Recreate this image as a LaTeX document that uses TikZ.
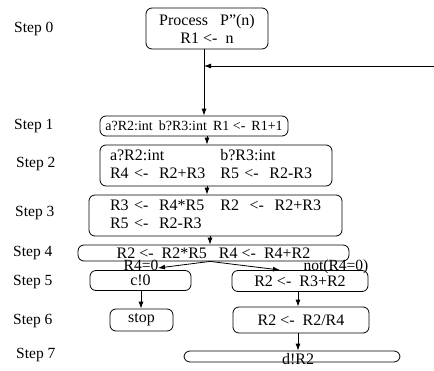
\documentclass[tikz,border=0pt]{standalone}
\usepackage{fontspec}
\setmainfont{Liberation Serif}
\usetikzlibrary{arrows.meta}
\begin{document}
\begin{tikzpicture}[x=1pt,y=-1pt,
  bx/.style={draw, rounded corners=6pt, line width=0.8pt, inner sep=0pt,
    font=\fontsize{16}{18}\selectfont},
  lbl/.style={font=\fontsize{15.5}{18}\selectfont, inner sep=0pt},
  arr/.style={-{Latex[length=7pt,width=5pt]}, line width=0.8pt}]
\useasboundingbox (0,0) rectangle (434,370);
% step labels
\node[lbl, anchor=west] (t0) at (14,29) {Step 0};
\node[lbl, anchor=west] (t1) at (14,126) {Step 1};
\node[lbl, anchor=west] (t2) at (16,164) {Step 2};
\node[lbl, anchor=west] (t3) at (15,213) {Step 3};
\node[lbl, anchor=west] (t4) at (13,253) {Step 4};
\node[lbl, anchor=west] (t5) at (13,282) {Step 5};
\node[lbl, anchor=west] (t6) at (13,321) {Step 6};
\node[lbl, anchor=west] (t7) at (16,355) {Step 7};
% boxes
\node[bx, minimum width=122pt, minimum height=41pt, align=center] (s0) at (207,28.5)
  {Process~~ P\symbol{34}(n)\\ R1 <-~ n};
\node[bx, minimum width=188pt, minimum height=20pt, font=\fontsize{14}{16}\selectfont] (s1) at (194,126)
  {a?R2:int\hspace{6pt}b?R3:int\hspace{6pt}R1\hspace{3.5pt}<-\hspace{6pt}R1+1};
\node[bx, minimum height=41pt, text width=212pt, inner xsep=10pt, align=left] (s2) at (216,165.5)
  {\begin{tabular}{@{}l@{\hspace{15pt}}l@{}}a?R2:int & b?R3:int\\ R4 <-~ R2+R3 & R5 <-~ R2-R3\end{tabular}};
\node[bx, minimum height=41pt, text width=211pt, inner xsep=21pt, align=left] (s3) at (215.5,215.5)
  {\begin{tabular}{@{}l@{}}R3 <-~ R4*R5~~ R2~ <-~ R2+R3\\ R5 <-~ R2-R3\end{tabular}};
\node[bx, minimum width=271pt, minimum height=16pt] (s4) at (213.5,253)
  {R2 <-~ R2*R5~~ R4 <-~ R4+R2};
\node[bx, minimum width=101pt, minimum height=20pt] (s5l) at (140.5,280.5) {c!0};
\node[bx, minimum width=136pt, minimum height=21pt] (s5r) at (300,281) {R2 <-~ R3+R2};
\node[bx, minimum width=63pt, minimum height=22pt] (s6l) at (141.5,320) {stop};
\node[bx, minimum width=136pt, minimum height=26pt] (s6r) at (301,320) {R2 <-~ R2/R4};
\node[bx, minimum width=216pt, minimum height=11pt] (s7) at (292,356.5) {};
\node[lbl, font=\fontsize{16}{18}\selectfont, anchor=base] (s7t) at (298,364) {d!R2};
% branch labels
\node[lbl, anchor=base] (l1) at (141,270) {R4=0};
\node[lbl, anchor=base] (l2) at (336,270) {not(R4=0)};
% connectors
\coordinate (c0) at (204,0);
\coordinate (back) at (434,66);
\draw[arr] (c0 |- s0.south) -- (c0 |- s1.north);
\draw[arr] (back) -- (c0 |- back);
\coordinate (c1) at (207,0);
\draw[arr] (c1 |- s1.south) -- (c1 |- s2.north);
\draw[arr] (c1 |- s2.south) -- (c1 |- s3.north);
\coordinate (c3) at (210,0);
\draw[arr] (c3 |- s3.south) -- (c3 |- s4.north);
\coordinate (tl) at (158,268);
\coordinate (tr) at (280,270);
\draw[arr] (c3 |- s4.south) -- (tl);
\draw[arr] (c3 |- s4.south) -- (tr);
\coordinate (c5) at (141,0);
\draw[arr] (c5 |- s5l.south) -- (c5 |- s6l.north);
\coordinate (c6) at (298,0);
\draw[arr] (c6 |- s5r.south) -- (c6 |- s6r.north);
\draw[arr] (c6 |- s6r.south) -- (c6 |- s7.north);
\end{tikzpicture}
\end{document}
